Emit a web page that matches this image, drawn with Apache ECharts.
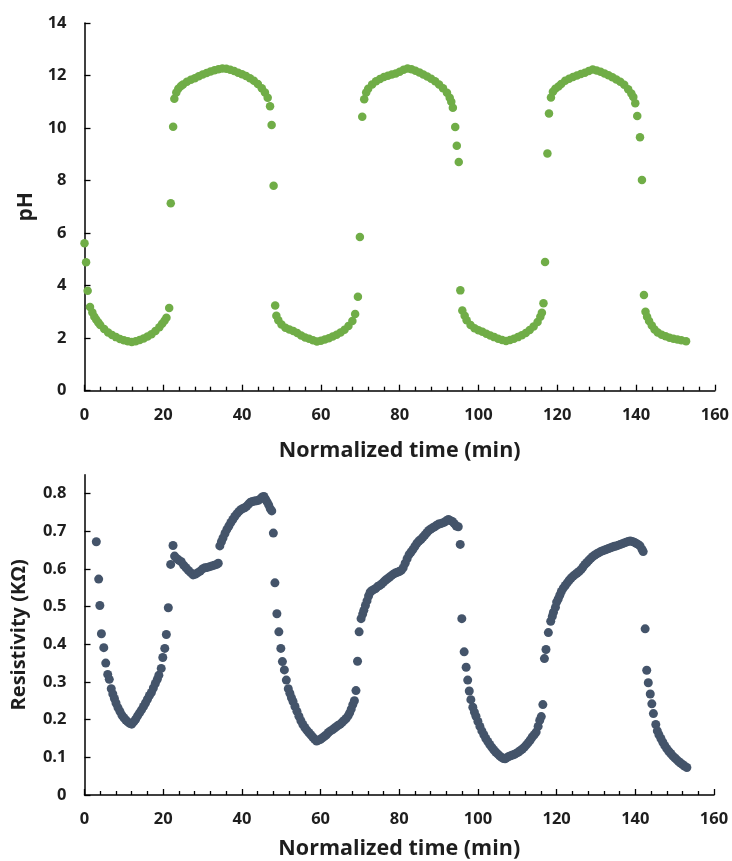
<!DOCTYPE html>
<html>
<head>
<meta charset="utf-8">
<script src="https://cdn.jsdelivr.net/npm/echarts@6/dist/echarts.min.js"></script>
<style>
html,body{margin:0;padding:0;background:#fff;}
#chart{width:732px;height:861px;}
</style>
</head>
<body>
<div id="chart"></div>
<script>
// ---------- Data: pH vs normalized time (min) ----------
const pHCycle1 = [
  [0.0,5.61],[0.4,4.89],[0.8,3.81],[1.4,3.19],[2.0,2.98],[2.5,2.82],[3.0,2.70],[3.5,2.60],[4.0,2.50],
  [5.0,2.35],[6.0,2.22],[7.0,2.12],[8.0,2.04],[9.0,1.97],[10.0,1.92],[11.0,1.88],[12.0,1.85],
  [13.0,1.88],[14.0,1.93],[15.0,1.99],[16.0,2.06],[17.0,2.15],[18.0,2.27],[19.0,2.42],[19.7,2.55],
  [20.3,2.66],[20.8,2.78],[21.5,3.15],[21.9,7.14],[22.5,10.05],[22.8,11.12],
  [23.3,11.35],[23.8,11.50],[24.5,11.60],[25.0,11.66],[26.0,11.76],[27.0,11.84],[28.0,11.90],
  [29.0,11.97],[30.0,12.04],[31.0,12.10],[32.0,12.15],[33.0,12.20],[34.0,12.24],[35.0,12.27],
  [36.0,12.26],[37.0,12.22],[38.0,12.17],[39.0,12.11],[40.0,12.05],[41.0,11.98],[42.0,11.90],
  [43.0,11.80],[44.0,11.68],[45.0,11.52],[45.8,11.35],[46.5,11.15],
  [47.1,10.83],[47.5,10.12],[48.0,7.80],[48.4,3.24]
];
const pHCycle2 = [
  [48.7,2.85],[49.2,2.68],[50.0,2.52],[51.0,2.40],[52.0,2.33],[53.0,2.27],[54.0,2.20],[55.0,2.10],
  [56.0,2.03],[57.0,1.98],[58.0,1.92],[59.0,1.87],[60.0,1.90],[61.0,1.95],[62.0,2.00],[63.0,2.06],
  [64.0,2.13],[65.0,2.22],[66.0,2.32],[67.0,2.46],[68.0,2.65],[68.7,2.92],
  [69.4,3.58],[69.9,5.85],[70.5,10.43],[71.0,11.10],
  [71.5,11.35],[72.0,11.50],[73.0,11.66],[74.0,11.78],[75.0,11.87],[76.0,11.94],[77.0,11.99],
  [78.0,12.04],[79.0,12.08],[80.0,12.14],[81.0,12.22],[82.0,12.27],[83.0,12.24],[84.0,12.18],
  [85.0,12.12],[86.0,12.04],[87.0,11.96],[88.0,11.88],[89.0,11.78],[90.0,11.66],[91.0,11.52],
  [92.0,11.34],[92.7,11.15],[93.1,11.00],
  [93.5,10.77],[94.1,10.04],[94.5,9.33],[95.0,8.71],[95.4,3.82]
];
const pHCycle3 = [
  [95.9,3.05],[96.5,2.85],[97.0,2.68],[98.0,2.50],[99.0,2.38],[100.0,2.30],[101.0,2.24],[102.0,2.17],
  [103.0,2.10],[104.0,2.04],[105.0,1.98],[106.0,1.93],[107.0,1.89],[108.0,1.93],[109.0,1.98],
  [110.0,2.04],[111.0,2.11],[112.0,2.20],[113.0,2.31],[114.0,2.44],[115.0,2.62],[115.7,2.82],[116.1,2.97],
  [116.5,3.33],[116.9,4.90],[117.5,9.03],[117.9,10.55],[118.4,11.16],
  [118.9,11.38],[119.5,11.50],[120.3,11.58],[121.0,11.68],[122.0,11.80],[123.0,11.88],[124.0,11.94],
  [125.0,12.00],[126.0,12.06],[127.0,12.11],[128.0,12.17],[129.0,12.23],[130.0,12.19],[131.0,12.14],
  [132.0,12.08],[133.0,12.01],[134.0,11.93],[135.0,11.85],[136.0,11.76],[137.0,11.65],[138.0,11.48],
  [138.8,11.32],[139.3,11.18],[139.8,10.94],
  [140.3,10.46],[141.0,9.65],[141.5,8.02],[142.0,3.64]
];
const pHCycle4 = [
  [142.4,3.01],[142.8,2.82],[143.3,2.65],[144.0,2.48],[144.7,2.33],[145.5,2.22],[146.5,2.13],
  [147.5,2.07],[148.5,2.02],[149.5,1.98],[150.5,1.95],[151.5,1.92],[152.7,1.88]
];

// ---------- Data: resistivity (KΩ) vs normalized time (min) ----------
const resCycle1 = [
  [3.0,0.672],[3.6,0.573],[3.9,0.503],[4.3,0.428],[4.9,0.391],[5.4,0.350],[5.9,0.320],[6.3,0.307],[6.8,0.282],
  [7.2,0.268],[7.6,0.256],[8.0,0.244],[8.5,0.232],[9.0,0.222],[9.5,0.212],[10.0,0.205],[10.5,0.199],
  [11.0,0.194],[11.5,0.190],[12.0,0.188],[12.5,0.194],[13.0,0.201],[13.5,0.210],[14.0,0.218],
  [14.5,0.226],[15.0,0.235],[15.5,0.244],[16.0,0.254],[16.5,0.264],[17.0,0.272],[17.5,0.284],
  [18.0,0.296],[18.5,0.307],[18.9,0.318],[19.5,0.336],[19.9,0.365],[20.4,0.389],[20.8,0.426],
  [21.3,0.497],[21.9,0.612],[22.5,0.662],[22.9,0.634],[23.5,0.627],[24.0,0.623],[24.6,0.619],
  [25.2,0.610],[25.8,0.603],[26.4,0.596],[27.0,0.590],[27.6,0.584],[28.2,0.586],[28.8,0.590],
  [29.4,0.594],[30.0,0.600],[30.6,0.603],[31.2,0.604],[31.8,0.606],[32.4,0.608],[33.0,0.610],
  [33.6,0.612],[34.0,0.615],[34.4,0.661],[34.8,0.672],[35.2,0.682],[35.7,0.694],[36.2,0.705],
  [36.7,0.714],[37.2,0.723],[37.7,0.731],[38.2,0.739],[38.7,0.746],[39.2,0.752],[39.7,0.757],
  [40.2,0.760],[40.7,0.762],[41.2,0.766],[41.7,0.772],[42.2,0.777],[42.7,0.779],[43.2,0.780],
  [43.7,0.781],[44.2,0.782],[44.7,0.786],[45.2,0.791],[45.6,0.792],[46.0,0.785],[46.4,0.778],
  [46.8,0.770],[47.2,0.760],[47.6,0.754]
];
const resCycle2 = [
  [48.0,0.695],[48.4,0.563],[48.9,0.481],[49.4,0.433],[49.9,0.389],[50.3,0.354],[50.8,0.332],
  [51.3,0.305],[51.8,0.282],[52.2,0.270],[52.6,0.258],[53.0,0.248],[53.5,0.235],[54.0,0.222],
  [54.5,0.209],[55.0,0.197],[55.5,0.187],[56.0,0.179],[56.5,0.172],[57.0,0.166],[57.5,0.160],
  [58.0,0.154],[58.5,0.148],[59.0,0.143],[59.5,0.146],[60.0,0.148],[60.5,0.152],[61.0,0.156],
  [61.5,0.160],[62.0,0.166],[62.5,0.170],[63.0,0.173],[63.5,0.177],[64.0,0.181],[64.5,0.185],
  [65.0,0.188],[65.5,0.193],[66.0,0.198],[66.5,0.203],[67.0,0.210],[67.4,0.218],[67.8,0.228],
  [68.2,0.240],[68.6,0.250],[69.0,0.277],[69.4,0.355],[69.8,0.433],[70.3,0.468],[70.7,0.480],
  [71.0,0.490],[71.4,0.503],[71.8,0.515],[72.2,0.528],[72.6,0.538],[73.0,0.542],[73.5,0.545],
  [74.0,0.548],[74.5,0.553],[75.0,0.556],[75.5,0.560],[76.0,0.565],[76.5,0.570],[77.0,0.574],
  [77.5,0.578],[78.0,0.582],[78.5,0.586],[79.0,0.589],[79.5,0.591],[80.0,0.593],[80.5,0.596],
  [81.0,0.603],[81.5,0.615],[82.0,0.627],[82.5,0.638],[83.0,0.645],[83.5,0.652],[84.0,0.660],
  [84.5,0.668],[85.0,0.674],[85.5,0.678],[86.0,0.684],[86.5,0.690],[87.0,0.696],[87.5,0.702],
  [88.0,0.706],[88.5,0.709],[89.0,0.712],[89.5,0.716],[90.0,0.719],[90.5,0.720],[91.0,0.722],
  [91.5,0.724],[92.0,0.728],[92.5,0.731],[93.0,0.728],[93.5,0.726],[94.0,0.720],[94.5,0.714],
  [95.0,0.712],[95.5,0.665]
];
const resCycle3 = [
  [95.9,0.468],[96.5,0.380],[97.0,0.339],[97.4,0.305],[97.8,0.276],[98.2,0.253],[98.7,0.233],
  [99.1,0.220],[99.5,0.209],[100.0,0.195],[100.5,0.182],[101.0,0.170],[101.5,0.160],[102.0,0.150],
  [102.5,0.142],[103.0,0.134],[103.5,0.127],[104.0,0.120],[104.5,0.114],[105.0,0.109],[105.5,0.104],
  [106.0,0.100],[106.5,0.097],[106.9,0.096],[107.3,0.099],[107.8,0.102],[108.3,0.104],[108.8,0.106],
  [109.3,0.108],[109.8,0.111],[110.3,0.114],[110.8,0.118],[111.3,0.122],[111.8,0.127],[112.3,0.133],
  [112.8,0.139],[113.3,0.146],[113.8,0.154],[114.3,0.160],[114.8,0.167],[115.3,0.182],[115.7,0.198],
  [116.1,0.208],[116.5,0.240],[116.9,0.362],[117.3,0.386],[117.9,0.431],[118.5,0.461],[118.9,0.474],
  [119.2,0.485],[119.7,0.498],[120.0,0.512],[120.4,0.520],[120.8,0.530],[121.2,0.540],[121.7,0.549],
  [122.2,0.556],[122.7,0.563],[123.2,0.570],[123.7,0.576],[124.2,0.581],[124.7,0.585],[125.2,0.589],
  [125.7,0.593],[126.2,0.598],[126.7,0.605],[127.2,0.612],[127.7,0.617],[128.2,0.623],[128.7,0.628],
  [129.2,0.633],[129.7,0.637],[130.2,0.640],[130.7,0.643],[131.2,0.646],[131.7,0.648],[132.2,0.650],
  [132.7,0.652],[133.2,0.654],[133.7,0.656],[134.2,0.658],[134.7,0.660],[135.2,0.661],[135.7,0.663],
  [136.2,0.665],[136.7,0.667],[137.2,0.669],[137.7,0.671],[138.2,0.673],[138.7,0.674],[139.2,0.673],
  [139.7,0.671],[140.2,0.668],[140.7,0.665],[141.2,0.661],[141.7,0.652],[142.0,0.646]
];
const resCycle4 = [
  [142.5,0.441],[142.9,0.331],[143.3,0.298],[143.8,0.268],[144.2,0.242],[144.6,0.216],[145.2,0.187],
  [145.6,0.170],[146.0,0.160],[146.5,0.150],[147.0,0.140],[147.5,0.131],[148.0,0.123],[148.5,0.116],
  [149.0,0.110],[149.5,0.104],[150.0,0.099],[150.5,0.094],[151.0,0.089],[151.5,0.085],[152.0,0.081],
  [152.5,0.077],[153.1,0.073]
];

const timeTicks = [0, 20, 40, 60, 80, 100, 120, 140, 160];
const pHTicks = [0, 2, 4, 6, 8, 10, 12, 14];
const resTicks = [0, 0.1, 0.2, 0.3, 0.4, 0.5, 0.6, 0.7, 0.8];

const pHData = [].concat(pHCycle1, pHCycle2, pHCycle3, pHCycle4);
const resData = [].concat(resCycle1, resCycle2, resCycle3, resCycle4);

const FONT = 'Open Sans';
const TXT = '#1e1e1e';
const axisLineStyle = { color: '#000', width: 1.5 };

function xAxisCfg(gridIndex, nameGap) {
  return {
    type: 'value', gridIndex: gridIndex, min: 0, max: 160, interval: 20,
    name: 'Normalized time (min)', nameLocation: 'middle', nameGap: nameGap,
    nameTextStyle: { fontFamily: FONT, fontWeight: 'bold', fontSize: 21.5, color: TXT },
    axisLine: { show: true, onZero: false, lineStyle: axisLineStyle },
    axisTick: { show: true, inside: true, length: 6, lineStyle: { color: '#000', width: 1.3 } },
    minorTick: { show: true, splitNumber: 5, length: 4, lineStyle: { color: '#000', width: 1.3 } },
    axisLabel: { margin: 16, fontFamily: FONT, fontWeight: 'bold', fontSize: 16.5, color: TXT },
    splitLine: { show: false }
  };
}

const option = {
  backgroundColor: '#fff',
  animation: false,
  grid: [
    { left: 84.5, top: 23, width: 632.5, height: 367.7 },
    { left: 84.5, top: 474.7, width: 629.5, height: 323 }
  ],
  xAxis: [xAxisCfg(0, 49), xAxisCfg(1, 43)],
  yAxis: [
    {
      type: 'value', gridIndex: 0, min: 0, max: 14, interval: 2,
      name: 'pH', nameLocation: 'middle', nameGap: 46, nameRotate: 90,
      nameTextStyle: { fontFamily: FONT, fontWeight: 'bold', fontSize: 21, color: TXT },
      axisLine: { show: true, lineStyle: axisLineStyle },
      axisTick: { show: true, inside: true, length: 6, lineStyle: { color: '#000', width: 1.3 } },
      axisLabel: { margin: 18, fontFamily: FONT, fontWeight: 'bold', fontSize: 16.5, color: TXT },
      splitLine: { show: false }
    },
    {
      type: 'value', gridIndex: 1, min: 0, max: 0.85,
      name: 'Resistivity (KΩ)', nameLocation: 'middle', nameGap: 55, nameRotate: 90,
      nameTextStyle: { fontFamily: FONT, fontWeight: 'bold', fontSize: 20, color: TXT },
      axisLine: { show: true, lineStyle: axisLineStyle },
      axisTick: { show: true, inside: true, length: 6, customValues: resTicks, lineStyle: { color: '#000', width: 1.3 } },
      axisLabel: {
        margin: 18, fontFamily: FONT, fontWeight: 'bold', fontSize: 16.5, color: TXT,
        customValues: resTicks,
        formatter: function (v) {
          const r = Math.round(v * 10) / 10;
          return Math.abs(r - v) < 1e-6 ? String(r) : '';
        }
      },
      splitLine: { show: false }
    }
  ],
  series: [
    {
      type: 'scatter', xAxisIndex: 0, yAxisIndex: 0, data: pHData,
      symbolSize: 8.5, itemStyle: { color: '#70ad47', opacity: 1 }
    },
    {
      type: 'scatter', xAxisIndex: 1, yAxisIndex: 1, data: resData,
      symbolSize: 9, itemStyle: { color: '#44546a', opacity: 1 }
    }
  ]
};

const chart = echarts.init(document.getElementById('chart'), null, { renderer: 'canvas' });
chart.setOption(option);
</script>
</body>
</html>
